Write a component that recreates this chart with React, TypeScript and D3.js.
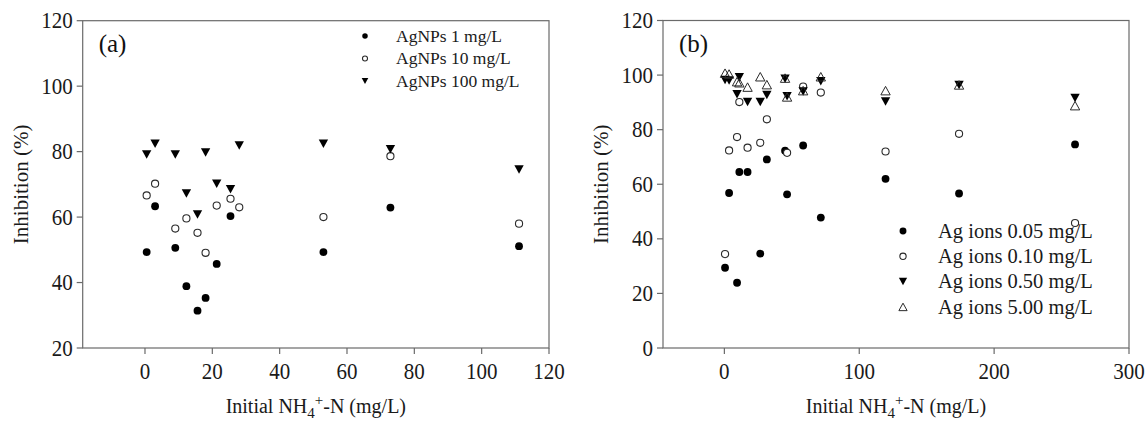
import React, { useEffect, useRef } from 'react';
import * as d3 from 'd3';

// panel (a): AgNPs, shared x values
const xA = [0.5, 3, 9, 12.3, 15.6, 18, 21.3, 25.4, 28, 53, 72.9, 111.1];
const agnp1 = [49.3, 63.3, 50.6, 38.9, 31.4, 35.3, 45.7, 60.3, null, 49.3, 62.9, 51.1];
const agnp10 = [66.6, 70.2, 56.5, 59.6, 55.2, 49.1, 63.5, 65.6, 63.0, 60.0, 78.6, 58.0];
const agnp100 = [79.1, 82.4, 79.1, 67.2, 60.8, 79.7, 70.2, 68.5, 81.9, 82.4, 80.7, 74.5];
const legendA = ['AgNPs 1 mg/L', 'AgNPs 10 mg/L', 'AgNPs 100 mg/L'];

// panel (b): Ag ions
const xB = [0.5, 3.5, 9.4, 11.1, 17.2, 26.6, 31.5, 45, 46.5, 58.4, 71.5, 119.5, 174, 260];
const ion005 = [29.4, 56.8, 23.9, 64.5, 64.5, 34.6, 69.1, 72.3, 56.3, 74.2, 47.8, 62.0, 56.6, 74.6];
const ion010 = [34.4, 72.4, 77.3, 90.1, 73.4, 75.2, 83.8, null, 71.5, 95.8, 93.6, 72.0, 78.5, 45.8];
const ion050 = [98.2, 98.0, 93.0, 99.2, 90.1, 90.1, 92.7, 98.7, 92.2, 94.0, 97.7, 90.3, 96.4, 91.6];
const ion500 = [100.7, 100.4, 97.6, 97.2, 95.6, 99.4, 96.5, 98.9, 92.0, 94.3, 99.4, 94.3, 96.4, 88.8];
const legendB = ['Ag ions 0.05 mg/L', 'Ag ions 0.10 mg/L', 'Ag ions 0.50 mg/L', 'Ag ions 5.00 mg/L'];

const ticksAx = [0, 20, 40, 60, 80, 100, 120];
const ticksAy = [20, 40, 60, 80, 100, 120];
const ticksBx = [0, 100, 200, 300];
const ticksBy = [0, 20, 40, 60, 80, 100, 120];

const FONT = 'Liberation Serif';
const LINE = '#6a6a6a';

function drawMarker(g, type, x, y, s) {
    if (type === 'dot') {
        g.append('circle').attr('cx', x).attr('cy', y).attr('r', s * 0.46).attr('fill', '#000');
    } else if (type === 'ring') {
        g.append('circle').attr('cx', x).attr('cy', y).attr('r', s * 0.42)
            .attr('fill', '#fff').attr('stroke', '#2a2a2a').attr('stroke-width', 1.1);
    } else if (type === 'down') {
        const w = s * 1.1, h = s;
        g.append('path')
            .attr('d', `M${x - w / 2},${y - h / 2}L${x + w / 2},${y - h / 2}L${x},${y + h / 2}Z`)
            .attr('fill', '#000');
    } else {
        const w = s * 1.1, h = s;
        g.append('path')
            .attr('d', `M${x - w / 2},${y + h / 2}L${x + w / 2},${y + h / 2}L${x},${y - h / 2}Z`)
            .attr('fill', 'none').attr('stroke', '#2a2a2a').attr('stroke-width', 1);
    }
}

function label(g, size) {
    return g.append('text').attr('font-family', FONT).attr('font-size', size).attr('fill', '#1a1a1a');
}

function drawPanel(svg, opt) {
    const { left, right, top, bottom, xDomain, yDomain, xTicks, yTicks, series, tag, legend } = opt;
    const x = d3.scaleLinear().domain(xDomain).range([left, right]);
    const y = d3.scaleLinear().domain(yDomain).range([bottom, top]);
    const g = svg.append('g');

    // frame
    g.append('rect')
        .attr('x', left).attr('y', top)
        .attr('width', right - left).attr('height', bottom - top)
        .attr('fill', 'none').attr('stroke', LINE).attr('stroke-width', 1.2);

    // y ticks
    yTicks.forEach(t => {
        g.append('line').attr('x1', left - 6).attr('x2', left).attr('y1', y(t)).attr('y2', y(t))
            .attr('stroke', LINE).attr('stroke-width', 1.2);
        label(g, 21)
            .attr('transform', `translate(${left - 10},${y(t) + 7.5}) scale(1,1.14)`)
            .attr('text-anchor', 'end')
            .text(t);
    });
    // x ticks
    xTicks.forEach(t => {
        g.append('line').attr('x1', x(t)).attr('x2', x(t)).attr('y1', bottom).attr('y2', bottom + 6)
            .attr('stroke', LINE).attr('stroke-width', 1.2);
        label(g, 21)
            .attr('transform', `translate(${x(t)},${bottom + 31}) scale(1,1.14)`)
            .attr('text-anchor', 'middle')
            .text(t);
    });

    // axis titles
    const cy = (top + bottom) / 2;
    label(g, 21)
        .attr('transform', `translate(${left - 55},${cy}) rotate(-90)`)
        .attr('text-anchor', 'middle')
        .text('Inhibition (%)');

    const xt = label(g, 20)
        .attr('x', (left + right) / 2).attr('y', 413)
        .attr('text-anchor', 'middle');
    xt.append('tspan').text('Initial NH');
    xt.append('tspan').attr('dy', 5).attr('font-size', 15).text('4');
    xt.append('tspan').attr('dy', -13).attr('font-size', 15).text('+');
    xt.append('tspan').attr('dy', 8).text('-N (mg/L)');

    label(g, 25)
        .attr('x', left + 16).attr('y', 52)
        .attr('fill', '#111')
        .text(tag);

    // data
    series.forEach(s => {
        opt.xs.forEach((xv, i) => {
            const v = s.values[i];
            if (v === null || v === undefined) return;
            drawMarker(g, s.type, x(xv), y(v), 8.5);
        });
    });

    // legend
    series.forEach((s, i) => {
        const ly = legend.y + i * legend.step;
        drawMarker(g, s.type, legend.sx, ly, legend.size);
        label(g, legend.font)
            .attr('x', legend.tx).attr('y', ly).attr('dy', '0.33em')
            .text(s.label);
    });
}

export default function App() {
    const svgRef = useRef(null);

    useEffect(() => {
        const svg = d3.select(svgRef.current).html('');
        svg.append('rect').attr('width', 1148).attr('height', 422).attr('fill', '#fff');

        drawPanel(svg, {
            left: 82.7, right: 549, top: 20.7, bottom: 348,
            xDomain: [-18.5, 120], yDomain: [20, 120],
            xTicks: ticksAx, yTicks: ticksAy,
            xs: xA,
            series: [
                { type: 'dot', values: agnp1, label: legendA[0] },
                { type: 'ring', values: agnp10, label: legendA[1] },
                { type: 'down', values: agnp100, label: legendA[2] },
            ],
            tag: '(a)',
            legend: { sx: 365, tx: 396, y: 36, step: 22.5, size: 6, font: 17.5 },
        });

        drawPanel(svg, {
            left: 663, right: 1129, top: 20.5, bottom: 348,
            xDomain: [-45.5, 300], yDomain: [0, 120],
            xTicks: ticksBx, yTicks: ticksBy,
            xs: xB,
            series: [
                { type: 'dot', values: ion005, label: legendB[0] },
                { type: 'ring', values: ion010, label: legendB[1] },
                { type: 'down', values: ion050, label: legendB[2] },
                { type: 'up', values: ion500, label: legendB[3] },
            ],
            tag: '(b)',
            legend: { sx: 903, tx: 938, y: 231, step: 25.3, size: 7.5, font: 20.5 },
        });
    }, []);

    return (
        <svg ref={svgRef} width={1148} height={422}
            style={{ position: 'absolute', left: 0, top: 0, display: 'block' }} />
    );
}
